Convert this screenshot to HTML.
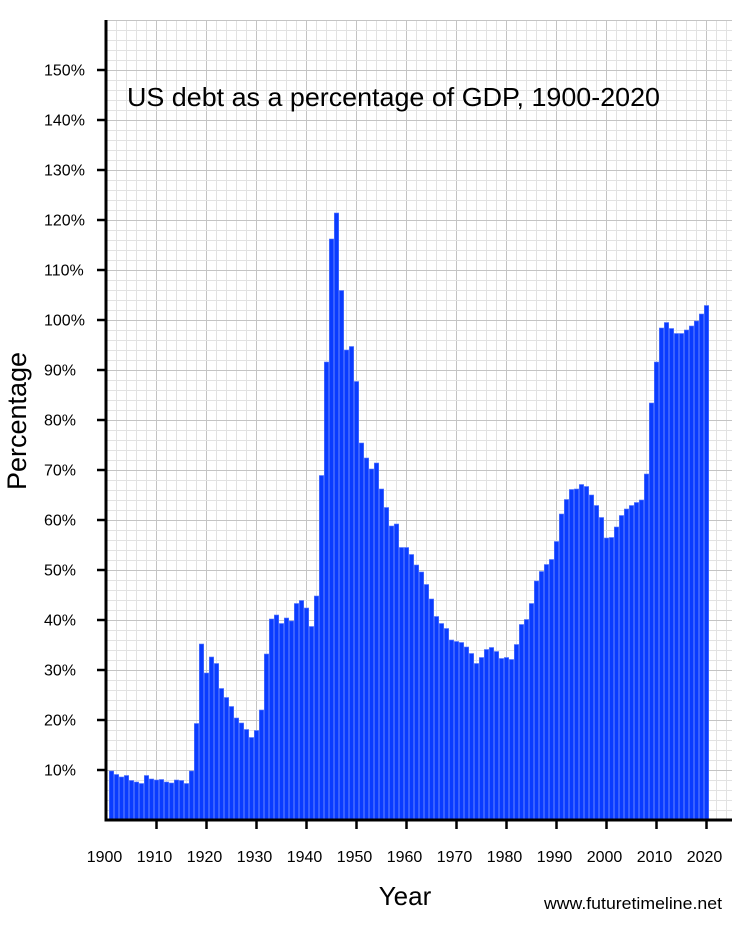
<!DOCTYPE html>
<html><head><meta charset="utf-8"><style>
html,body{margin:0;padding:0;background:#fff;}
svg text{font-family:"Liberation Sans",sans-serif;}
</style></head><body>
<svg id="chart" width="750" height="927" viewBox="0 0 750 927" xmlns="http://www.w3.org/2000/svg">
<g id="grid"></g>
<g id="bars"></g>
<g id="axes"></g>
<text x="127" y="106" font-size="26" textLength="533" lengthAdjust="spacingAndGlyphs">US debt as a percentage of GDP, 1900-2020</text>
<text transform="translate(26,421) rotate(-90)" text-anchor="middle" font-size="27">Percentage</text>
<text x="405" y="905" text-anchor="middle" font-size="26">Year</text>
<text x="722" y="909" text-anchor="end" font-size="17" textLength="178" lengthAdjust="spacingAndGlyphs">www.futuretimeline.net</text>
</svg>
<script>
const years = [];
for (let y = 1901; y <= 2020; y++) years.push(y);
const debtPct = [9.8,9.1,8.6,8.9,7.9,7.6,7.3,8.9,8.2,8.0,8.1,7.6,7.4,8.0,7.9,7.3,9.8,19.3,35.2,29.4,
32.6,31.3,26.3,24.5,22.7,20.4,19.4,18.1,16.5,17.9,22.0,33.2,40.2,41.0,39.3,40.4,39.8,43.3,43.9,42.4,
38.7,44.8,68.9,91.6,116.2,121.4,105.9,94.0,94.7,87.7,75.4,72.4,70.2,71.4,66.2,62.5,58.8,59.2,54.5,54.5,
53.1,51.0,49.6,47.1,44.2,40.7,39.3,38.3,36.0,35.7,35.5,34.6,33.3,31.3,32.5,34.1,34.5,33.7,32.3,32.5,
32.1,35.1,39.1,40.1,43.3,47.8,49.7,51.1,52.1,55.7,61.2,64.1,66.1,66.2,67.1,66.7,65.0,62.9,60.5,56.4,
56.5,58.6,60.9,62.2,62.9,63.5,64.0,69.2,83.4,91.6,98.4,99.5,98.3,97.3,97.3,98.0,98.8,99.8,101.2,102.9];
const yTicks = [10,20,30,40,50,60,70,80,90,100,110,120,130,140,150];
const xTicks = [1900,1910,1920,1930,1940,1950,1960,1970,1980,1990,2000,2010,2020];

const NS = "http://www.w3.org/2000/svg";
const xs = yr => 106.5 + (yr - 1900) * 5;
const ys = v => 820 - v * 5;
function mk(tag, attrs, parent){ const e=document.createElementNS(NS,tag); for(const k in attrs) e.setAttribute(k,attrs[k]); parent.appendChild(e); return e; }

const grid = document.getElementById('grid');
for (let x = 106.5; x <= 732; x += 10) {
  const major = Math.round((x-106.5)) % 50 === 0;
  const l = mk('line',{x1:x,y1:20,x2:x,y2:820,stroke:major?'#c4c4c4':'#e2e2e2','stroke-width':1},grid);
  
  
}
for (let v = 0; v <= 160; v += 2) {
  const yy = ys(v) + 0.5;
  if (yy < 20) break;
  const major = v % 10 === 0;
  const l = mk('line',{x1:106,y1:yy,x2:732,y2:yy,stroke:major?'#c4c4c4':'#e2e2e2','stroke-width':1},grid);
  
  
}

const bars = document.getElementById('bars');
years.forEach((yr,i) => {
  const v = debtPct[i];
  const r = mk('rect',{x:xs(yr)-2.2,y:ys(v),width:4.4,height:820-ys(v),fill:'#0a3cff',stroke:'#5a7bff','stroke-width':0.6},bars);
  
  
});

const axes = document.getElementById('axes');
const ya = mk('line',{x1:106,y1:20,x2:106,y2:821.5,stroke:'#000','stroke-width':3},axes);


const xa = mk('line',{x1:104.5,y1:820,x2:732,y2:820,stroke:'#000','stroke-width':3},axes);


yTicks.forEach(v => {
  const t = mk('line',{x1:97,y1:ys(v),x2:106,y2:ys(v),stroke:'#000','stroke-width':2.5},axes);
  
  
  const lb = mk('text',{x:44,y:ys(v)+5.5,'font-size':16},axes);
  lb.textContent = v + '%';
  
  
});
xTicks.forEach(yr => {
  if (yr > 1900) {
    const t = mk('line',{x1:xs(yr),y1:820,x2:xs(yr),y2:829,stroke:'#000','stroke-width':2.5},axes);
    
    
  }
  const lb = mk('text',{x:xs(yr)-2,y:862,'text-anchor':'middle','font-size':16},axes);
  lb.textContent = yr;
  
  
});
</script>
</body></html>
